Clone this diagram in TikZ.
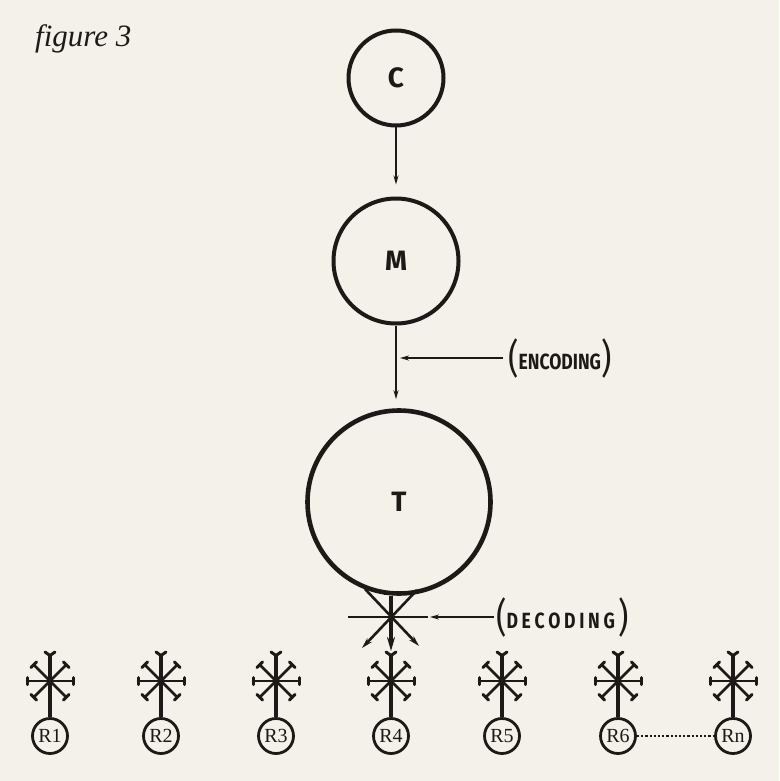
\documentclass[tikz,border=0pt]{standalone}
\usepackage{fontspec}
\setmainfont{Liberation Serif}
\newfontfamily\handfont{Fira Sans}
\newfontfamily\narrowhand[FakeStretch=0.8]{Fira Sans}
\usetikzlibrary{arrows.meta}
\definecolor{paper}{HTML}{F3F1EA}
\definecolor{ink}{HTML}{1C1917}
\newcommand{\bigparen}[1]{\raisebox{-3pt}{\mdseries\fontsize{40}{40}\selectfont#1}}
\tikzset{
  bigcirc/.style={circle, draw=ink, inner sep=0pt, font=\handfont\bfseries\fontsize{28}{28}\selectfont, text=ink},
  rcv/.style={circle, draw=ink, line width=2.8pt, minimum size=35pt, inner sep=0pt, font=\fontsize{20}{20}\selectfont, text=ink},
  thinarrow/.style={draw=ink, line width=1.5pt, -{Stealth[length=9pt,width=5pt]}},
  pointer/.style={draw=ink, line width=1.7pt, -{Stealth[length=9pt,width=5pt]}},
  heavyarrow/.style={draw=ink, line width=3.2pt, -{Stealth[length=14pt,width=8pt]}},
  stem/.style={draw=ink, line width=3.2pt},
  arm/.style={draw=ink, line width=2.6pt, line cap=round},
  bone/.style={draw=ink, line width=3pt, line cap=round},
  lbl/.style={font=\narrowhand\bfseries\fontsize{22}{22}\selectfont, text=ink, inner sep=0pt},
  antenna/.pic={
    \coordinate (-top) at (0,-26);
    \path[arm] (-23,0) -- (23,0);
    \path[arm] (-16,-16) -- (16,16);
    \path[arm] (16,-16) -- (-16,16);
    \path[bone] (-23,-3.5) -- (-23,3.5);
    \path[bone] (23,-3.5) -- (23,3.5);
    \path[bone] (13.5,19) -- (19,13.5);
    \path[bone] (-13.5,19) -- (-19,13.5);
    \path[bone] (13.5,-19) -- (19,-13.5);
    \path[bone] (-13.5,-19) -- (-19,-13.5);
    \path[bone] (-5,-29) -- (0,-25.5) -- (5,-29);
  }
}
\begin{document}
\begin{tikzpicture}[x=1pt,y=-1pt]
\fill[paper] (0,0) rectangle (779,781);
\useasboundingbox (0,0) rectangle (779,781);

% title
\node[anchor=base west, inner sep=0pt, font=\itshape\fontsize{31}{31}\selectfont, text=ink] (title) at (35,47) {figure 3};

% main circles
\node[bigcirc, line width=4pt, minimum size=95pt] (C) at (396,78) {C};
\node[bigcirc, line width=4pt, minimum size=125pt] (M) at (396,261) {M};
\node[bigcirc, line width=4.6pt, minimum size=183pt] (T) at (399,502) {T};

% vertical flow
\draw[thinarrow, shorten >=12pt] (C.south) -- (M.north);
\draw[thinarrow, shorten >=9pt] (M.south) -- (M.south |- T.north);

% encoding
\node[lbl, anchor=west] (enc) at (508,358) {\bigparen{(}ENCODING\bigparen{)}};
\coordinate (encpt) at (400,358);
\draw[pointer] (enc.west) ++(-5,0) coordinate (encstart) -- (encpt);

% receivers
\foreach \i/\x/\lab in {1/50/R1, 2/161/R2, 3/276/R3, 4/391/R4, 5/502/R5, 6/618/R6, 7/733/Rn} {
  \node[rcv] (r\i) at (\x,736) {\lab};
  \pic (s\i) at (\x,681) {antenna};
  \draw[stem] (s\i-top) -- (r\i.north);
}
\draw[ink, line width=2.2pt, dotted] (r6.east) -- (r7.west);

% decoding star under T
\coordinate (dl1) at (365,589);
\coordinate (dl2) at (419,646);
\coordinate (dr1) at (417,590);
\coordinate (dr2) at (362,648);
\draw[heavyarrow, shorten >=4pt] (T.south -| s4-top) -- (s4-top);
\draw[ink, line width=3pt] (384,593) -- (400,593);
\draw[ink, line width=2.6pt, -{Stealth[length=11pt,width=6pt]}] (dl1) -- (dl2);
\draw[ink, line width=2.6pt, -{Stealth[length=11pt,width=6pt]}] (dr1) -- (dr2);
\coordinate (hl) at (348,617);
\coordinate (hr) at (428,617);
\draw[ink, line width=2.6pt] (hl) -- (hr);

\node[lbl, anchor=west] (dec) at (496,617) {\bigparen{(}D\,E\,C\,O\,D\,I\,N\,G\,\bigparen{)}};
\coordinate (decpt) at (430,617);
\draw[pointer] (dec.west) ++(-2,0) -- (decpt);
\end{tikzpicture}
\end{document}
